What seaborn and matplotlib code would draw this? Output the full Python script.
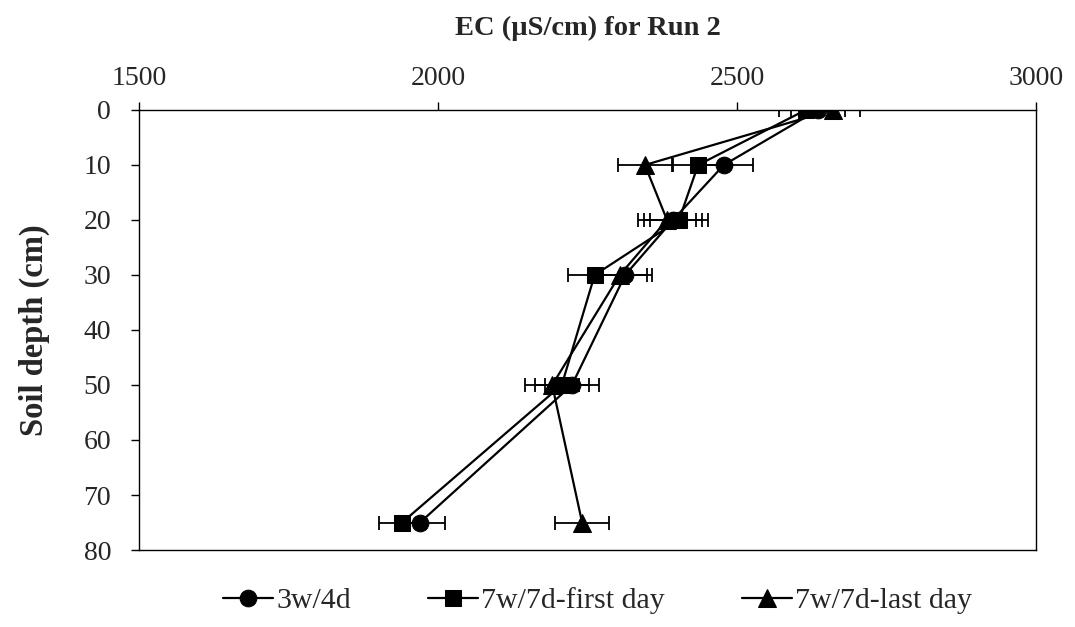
import matplotlib
matplotlib.use("Agg")
import matplotlib.pyplot as plt
import seaborn as sns
import pandas as pd

# Soil depth (cm) of each sampling point
depth = [0, 10, 20, 30, 50, 75]

# Mean EC (µS/cm) per treatment
ec_3w4d = [2635, 2478, 2393, 2313, 2224, 1970]
ec_7w7d_first = [2615, 2435, 2403, 2262, 2207, 1940]
ec_7w7d_last = [2660, 2346, 2383, 2304, 2191, 2241]

# Error bar half-widths (µS/cm)
err_3w4d = [45, 49, 48, 45, 45, 42]
err_7w7d_first = [45, 42, 48, 45, 45, 38]
err_7w7d_last = [45, 45, 48, 45, 45, 45]

series_names = ["3w/4d", "7w/7d-first day", "7w/7d-last day"]
x_ticks = [1500, 2000, 2500, 3000]
y_ticks = [0, 10, 20, 30, 40, 50, 60, 70, 80]

sns.set_theme(style="white")
plt.rcParams["font.family"] = ["Liberation Serif", "DejaVu Serif"]

fig = plt.figure(figsize=(10.75, 6.27), dpi=100)
ax = fig.add_axes([0.1293, 0.1228, 0.8344, 0.7018])

values = [ec_3w4d, ec_7w7d_first, ec_7w7d_last]
errors = [err_3w4d, err_7w7d_first, err_7w7d_last]
markers = ["o", "s", "^"]
sizes = [12, 11, 12.5]

for name, vals, errs, mk, ms in zip(series_names, values, errors, markers, sizes):
    df = pd.DataFrame({"EC": vals, "Depth": depth})
    ax.errorbar(vals, depth, xerr=errs, fmt="none", ecolor="black",
                elinewidth=1.3, capsize=5, capthick=1.3, zorder=2)
    sns.lineplot(data=df, x="EC", y="Depth", orient="y", sort=False,
                 color="black", linewidth=1.6, marker=mk, markersize=ms,
                 markeredgecolor="black", markerfacecolor="black",
                 label=name, ax=ax, zorder=3)

ax.set_xlim(1500, 3000)
ax.set_ylim(80, 0)
ax.set_xticks(x_ticks)
ax.set_yticks(y_ticks)
ax.xaxis.tick_top()
ax.xaxis.set_label_position("top")

for side in ["left", "right", "top", "bottom"]:
    ax.spines[side].set_visible(True)
    ax.spines[side].set_color("black")
    ax.spines[side].set_linewidth(1.0)

ax.tick_params(axis="x", which="major", direction="out", length=6, width=1.0,
               color="black", labelsize=20, pad=8, top=True, bottom=False)
ax.tick_params(axis="y", which="major", direction="out", length=6, width=1.0,
               color="black", labelsize=20, pad=14, left=True)

ax.set_xlabel("EC (µS/cm) for Run 2", fontsize=20.5, fontweight="bold", labelpad=22)
ax.set_ylabel("Soil depth (cm)", fontsize=23.5, fontweight="bold", labelpad=24)

handles, labels = ax.get_legend_handles_labels()
ax.legend(handles, labels, loc="center", bbox_to_anchor=(0.556, 0.042),
          bbox_transform=fig.transFigure, ncol=3, frameon=False,
          fontsize=21.5, handlelength=1.67, handletextpad=0.1,
          columnspacing=2.6)

fig.savefig("out.png", dpi=100)
